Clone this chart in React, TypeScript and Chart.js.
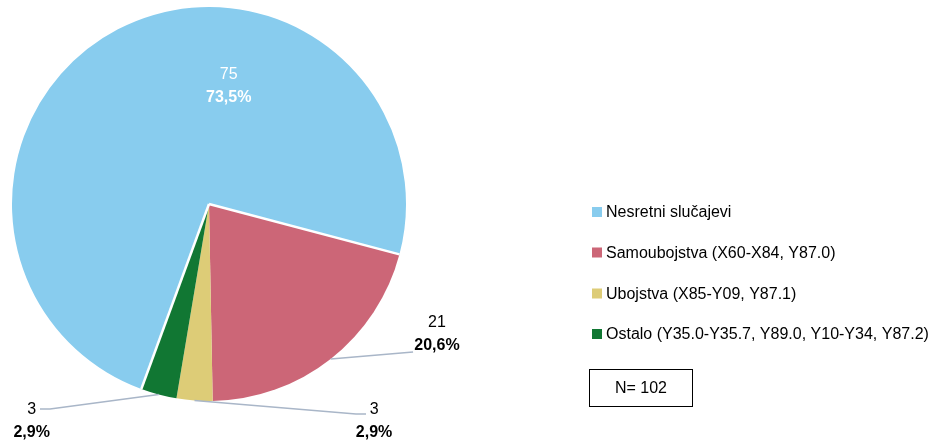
import React, { useEffect, useRef } from "react";
import { Chart, registerables } from "chart.js";

Chart.register(...registerables);

const categories = [
  "Nesretni slučajevi",
  "Samoubojstva (X60-X84, Y87.0)",
  "Ubojstva (X85-Y09, Y87.1)",
  "Ostalo (Y35.0-Y35.7, Y89.0, Y10-Y34, Y87.2)",
];
const values = [75, 21, 3, 3];
const colors = ["#88CCEE", "#CC6677", "#DDCC77", "#117733"];
const totalLabel = "N= 102";

// label placement (relative to pie centre, in units of radius)
const labelPlacement = [
  { text: [0.1, -0.6], inside: true },
  { text: [1.157, 0.66], lineEnd: [1.036, 0.751], bend: null },
  { text: [0.838, 1.1], lineEnd: [0.797, 1.066], bend: [0.746, 1.066] },
  { text: [-0.9, 1.1], lineEnd: [-0.858, 1.041], bend: [-0.807, 1.041] },
];

const FONT = "'Liberation Sans', Arial, sans-serif";

const pct = (v: number, total: number) =>
  ((v / total) * 100).toFixed(1).replace(".", ",") + "%";

const labelPlugin = {
  id: "customLabels",
  afterDatasetsDraw(chart: any) {
    const ctx = chart.ctx;
    const meta = chart.getDatasetMeta(0);
    const total = values.reduce((a, b) => a + b, 0);
    ctx.save();
    // white separators on blue slice edges
    const a0 = meta.data[0];
    const cx = a0.x, cy = a0.y, r = a0.outerRadius;
    ctx.strokeStyle = "#ffffff";
    ctx.lineWidth = 2.5;
    [a0.startAngle, a0.endAngle].forEach((ang: number) => {
      ctx.beginPath();
      ctx.moveTo(cx, cy);
      ctx.lineTo(cx + Math.cos(ang) * r, cy + Math.sin(ang) * r);
      ctx.stroke();
    });

    meta.data.forEach((arc: any, i: number) => {
      const p = labelPlacement[i];
      const tx = cx + p.text[0] * r;
      const ty = cy + p.text[1] * r;
      if (!p.inside && p.lineEnd) {
        const mid = (arc.startAngle + arc.endAngle) / 2;
        const sx = cx + Math.cos(mid) * r;
        const sy = cy + Math.sin(mid) * r;
        ctx.strokeStyle = "#A9B6C8";
        ctx.lineWidth = 1.5;
        ctx.beginPath();
        ctx.moveTo(sx, sy);
        if (p.bend) ctx.lineTo(cx + p.bend[0] * r, cy + p.bend[1] * r);
        ctx.lineTo(cx + p.lineEnd[0] * r, cy + p.lineEnd[1] * r);
        ctx.stroke();
      }
      ctx.fillStyle = p.inside ? "#ffffff" : "#000000";
      ctx.textAlign = "center";
      ctx.textBaseline = "middle";
      ctx.font = `16px ${FONT}`;
      ctx.fillText(String(values[i]), tx, ty - 11.5);
      ctx.font = `bold 16px ${FONT}`;
      ctx.fillText(pct(values[i], total), tx, ty + 11.5);
    });
    ctx.restore();
  },
  afterDraw(chart: any) {
    const ctx = chart.ctx;
    ctx.save();
    const lx = 592;
    const ys = [212, 252.5, 293.5, 334];
    categories.forEach((c, i) => {
      ctx.fillStyle = colors[i];
      ctx.fillRect(lx, ys[i] - 5, 10, 10);
      ctx.fillStyle = "#000000";
      ctx.font = `16px ${FONT}`;
      ctx.textAlign = "left";
      ctx.textBaseline = "middle";
      ctx.fillText(c, lx + 14, ys[i] + 1);
    });
    // N box
    ctx.strokeStyle = "#000000";
    ctx.lineWidth = 1;
    ctx.strokeRect(589.5, 369.5, 103, 37);
    ctx.fillStyle = "#000000";
    ctx.textAlign = "center";
    ctx.fillText(totalLabel, 641, 389);
    ctx.restore();
  },
};

export default function App() {
  const ref = useRef<HTMLCanvasElement | null>(null);
  useEffect(() => {
    if (!ref.current) return;
    const chart = new Chart(ref.current, {
      type: "pie",
      data: {
        labels: categories,
        datasets: [
          {
            data: values,
            backgroundColor: colors,
            borderWidth: 0,
          },
        ],
      },
      options: {
        responsive: false,
        animation: false,
        rotation: 200.1,
        layout: { padding: { left: 12, right: 528, top: 7, bottom: 42 } },
        plugins: {
          legend: { display: false },
          tooltip: { enabled: false },
        },
      },
      plugins: [labelPlugin],
    });
    return () => chart.destroy();
  }, []);
  return (
    <div style={{ position: "absolute", left: 0, top: 0, width: 934, height: 443, background: "#fff" }}>
      <canvas ref={ref} width={934} height={443} />
    </div>
  );
}
